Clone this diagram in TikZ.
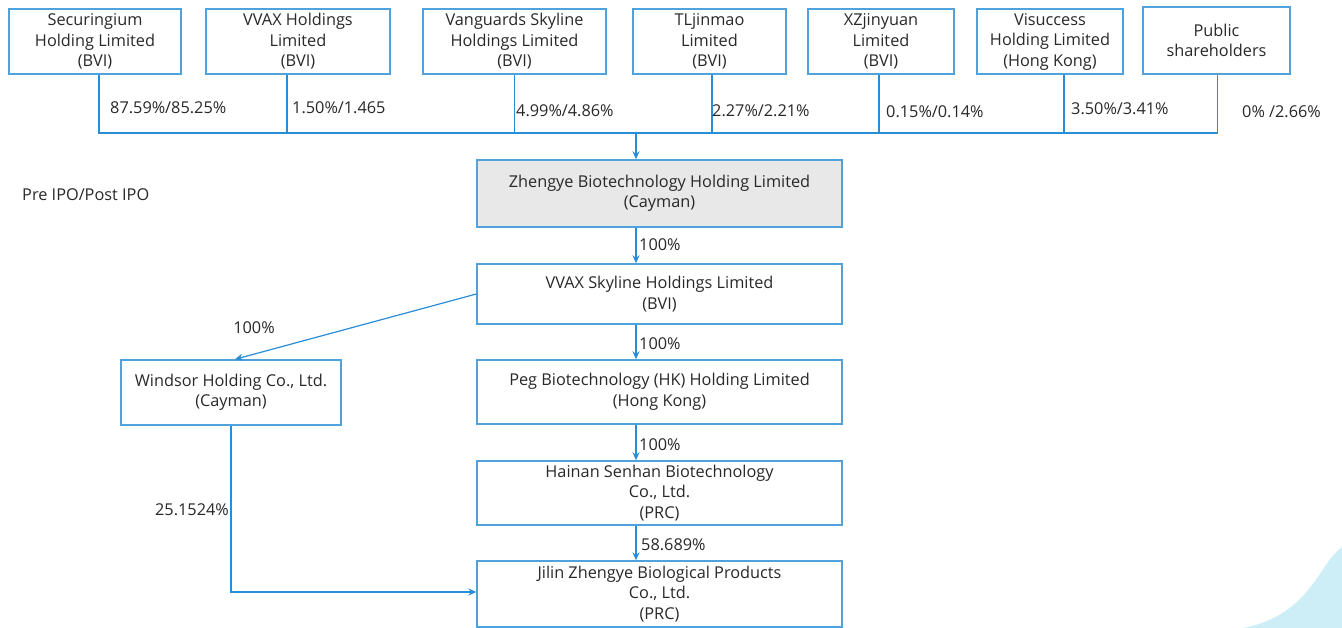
\documentclass[tikz,border=0pt]{standalone}
\usepackage{fontspec}
\setmainfont{Open Sans}
\usetikzlibrary{arrows.meta}

\definecolor{boxblue}{RGB}{79,163,221}
\definecolor{lineblue}{RGB}{41,140,215}
\definecolor{inkgray}{RGB}{40,40,40}
\definecolor{topfill}{RGB}{232,232,232}
\definecolor{wave}{RGB}{206,238,247}

\tikzset{
    company/.style={draw=boxblue, line width=1.4pt, align=center, inner sep=0pt,
        text=inkgray, font=\fontsize{16.3}{20.5}\selectfont},
    share/.style={text=inkgray, font=\fontsize{16.3}{18}\selectfont, inner sep=0pt},
    link/.style={draw=lineblue, line width=1.2pt},
    owns/.style={link, -{Stealth[length=8pt,width=7pt]}}
}

\begin{document}
\begin{tikzpicture}[x=1pt,y=-1pt]
        \useasboundingbox (0,0) rectangle (1342,628);
        \fill[wave] (1243,628) .. controls (1295,618) and (1312,585) .. (1328,562)
            .. controls (1333,555) .. (1342,547) -- (1342,628) -- cycle;

        \node[company, minimum width=172, minimum height=65] (sec) at (95,41.5) {Securingium\\Holding Limited\\(BVI)};
        \node[company, minimum width=184, minimum height=65] (vvax) at (298,41.5) {VVAX Holdings\\Limited\\(BVI)};
        \node[company, minimum width=183, minimum height=65] (vang) at (514.5,41.5) {Vanguards Skyline\\Holdings Limited\\(BVI)};
        \node[company, minimum width=153, minimum height=65] (tlj) at (709.5,41.5) {TLjinmao\\Limited\\(BVI)};
        \node[company, minimum width=146, minimum height=65] (xzj) at (881,41.5) {XZjinyuan\\Limited\\(BVI)};
        \node[company, minimum width=146, minimum height=65] (visu) at (1050,41.5) {Visuccess\\Holding Limited\\(Hong Kong)};
        \node[company, minimum width=147, minimum height=67] (pub) at (1216.5,40.5) {Public\\shareholders};

        \node[company, fill=topfill, minimum width=365, minimum height=67] (zhengye) at (659.5,193.5) {Zhengye Biotechnology Holding Limited\\(Cayman)};
        \node[company, minimum width=365, minimum height=60] (skyline) at (659.5,294) {VVAX Skyline Holdings Limited\\(BVI)};
        \node[company, minimum width=220, minimum height=65] (windsor) at (231,392.5) {Windsor Holding Co., Ltd.\\(Cayman)};
        \node[company, minimum width=365, minimum height=64] (peg) at (659.5,392) {Peg Biotechnology (HK) Holding Limited\\(Hong Kong)};
        \node[company, minimum width=365, minimum height=64] (hainan) at (659.5,493) {Hainan Senhan Biotechnology\\Co., Ltd.\\(PRC)};
        \node[company, minimum width=365, minimum height=66] (jilin) at (659.5,594) {Jilin Zhengye Biological Products\\Co., Ltd.\\(PRC)};

        \node[share, anchor=west] (phase) at (22,195) {Pre IPO/Post IPO};

        % shareholders into the listed company
        \coordinate (bus) at (636,133);
        \draw[link] ([xshift=4]sec.south) |- (bus) -| ([xshift=1]pub.south);
        \draw[link] ([xshift=-11]vvax.south) -- ([xshift=-11]vvax.south |- bus);
        \draw[link] (vang.south) -- (vang.south |- bus);
        \draw[link] ([xshift=2.5]tlj.south) -- ([xshift=2.5]tlj.south |- bus);
        \draw[link] ([xshift=-2]xzj.south) -- ([xshift=-2]xzj.south |- bus);
        \draw[link] ([xshift=14]visu.south) -- ([xshift=14]visu.south |- bus);
        \draw[owns] (bus) -- (bus |- zhengye.north);

        \node[share, anchor=west] (s1) at (110,108) {87.59\%/85.25\%};
        \node[share, anchor=west] (s2) at (292,108) {1.50\%/1.465};
        \node[share, anchor=west] (s3) at (516,111) {4.99\%/4.86\%};
        \node[share, anchor=west] (s4) at (712,111) {2.27\%/2.21\%};
        \node[share, anchor=west] (s5) at (886,112) {0.15\%/0.14\%};
        \node[share, anchor=west] (s6) at (1071,109) {3.50\%/3.41\%};
        \node[share, anchor=west] (s7) at (1242,112) {0\% /2.66\%};

        % group chain
        \draw[owns] ([xshift=-23.5]zhengye.south) -- ([xshift=-23.5]skyline.north);
        \draw[owns] ([xshift=-23.5]skyline.south) -- ([xshift=-23.5]peg.north);
        \draw[owns] ([xshift=-23.5]peg.south) -- ([xshift=-23.5]hainan.north);
        \draw[owns] ([xshift=-23.5]hainan.south) -- ([xshift=-23.5]jilin.north);
        \draw[owns] (skyline.west) -- ([xshift=4]windsor.north);
        \draw[owns] (windsor.south) |- ([yshift=2]jilin.west);

        \node[share, anchor=west] (p1) at (639,245) {100\%};
        \node[share, anchor=west] (p2) at (639,344) {100\%};
        \node[share, anchor=west] (p3) at (639,445) {100\%};
        \node[share, anchor=west] (p4) at (641,545) {58.689\%};
        \node[share] (p5) at (254,328) {100\%};
        \node[share] (p6) at (192,510) {25.1524\%};

    \end{tikzpicture}
\end{document}
